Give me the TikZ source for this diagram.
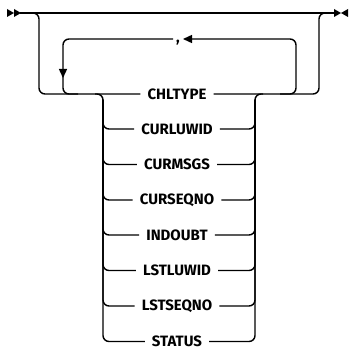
\documentclass[tikz,border=0pt]{standalone}
\usepackage{fontspec}
\newfontfamily\rrfont{Fira Sans}
\usetikzlibrary{arrows.meta}
\tikzset{
  rr/.style={line width=1.4pt, rounded corners=6pt},
  lbl/.style={font=\rrfont\bfseries\fontsize{15}{18}\selectfont, inner xsep=7pt, inner ysep=2pt, anchor=center},
  tip/.style={-{Triangle[length=9pt,width=8pt]}}
}
\begin{document}
\begin{tikzpicture}[x=1pt,y=-1pt]
\useasboundingbox (0,0) rectangle (351,352);
% start / end marks
\fill (7,9) -- (14,13) -- (7,17) -- cycle;
\fill (14,9) -- (21,13) -- (14,17) -- cycle;
\fill (334,9) -- (341,13) -- (334,17) -- cycle;
\fill (348,9) -- (341,13) -- (348,17) -- cycle;
\coordinate (s) at (20,13);
\coordinate (e) at (335,13);
\draw[rr] (s) -- (e);
% labels
\node[lbl] (chl) at (177,94) {CHLTYPE};
\node[lbl] (cl) at (177,129) {CURLUWID};
\node[lbl] (cm) at (177,164.5) {CURMSGS};
\node[lbl] (cs) at (177,200) {CURSEQNO};
\node[lbl] (ind) at (177,235) {INDOUBT};
\node[lbl] (ll) at (177,270.5) {LSTLUWID};
\node[lbl] (ls) at (177,306) {LSTSEQNO};
\node[lbl] (st) at (177,341.5) {STATUS};
\node[lbl, inner xsep=3pt, anchor=base] (cm0) at (178,43) {,};
% outer bypass
\draw[rr] (27,13) -| (39,94) -- (chl.west);
\draw[rr] (chl.east) -| (319,13) -- (328,13);
% repeat loop
\draw[rr, tip] (cm0.west |- 0,39) -| (63,78);
\draw[rr] (63,70) |- (78,94);
\draw[rr, tip] (280,94) -| (296,39) -- (cm0.east |- 0,39);
% stack
\draw[rr] (95,94) -| (103,341.5) -- (st.west);
\draw[rr] (st.east) -| (255,94) -- (263,94);
\foreach \n in {cl,cm,cs,ind,ll,ls}{
  \draw[rr] (103,100) |- (\n.west);
  \draw[rr] (\n.east) -| (255,100);
}
\end{tikzpicture}
\end{document}
